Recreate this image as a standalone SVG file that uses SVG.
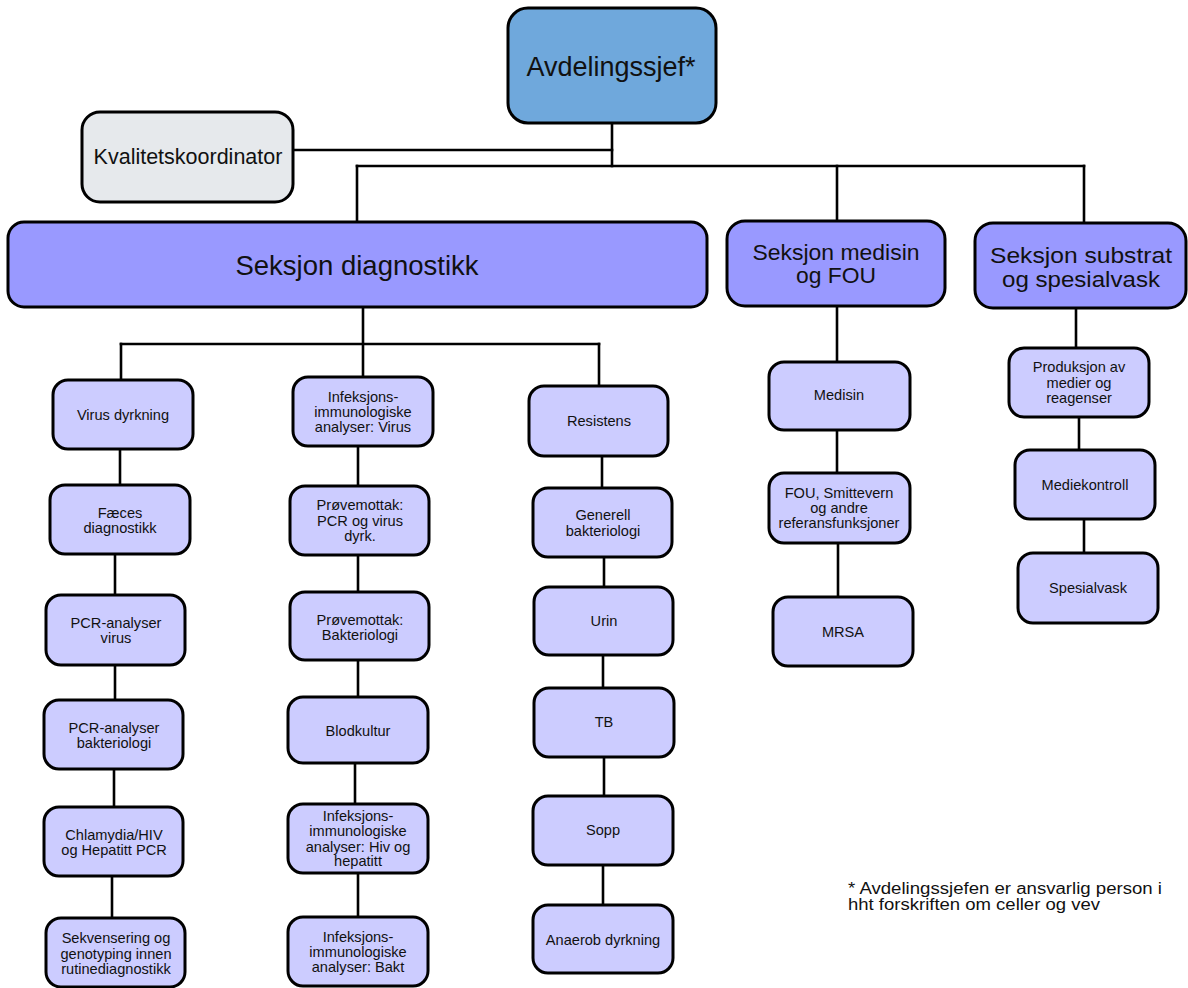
<svg xmlns="http://www.w3.org/2000/svg" width="1188" height="988" viewBox="0 0 1188 988">
<style>
  text { font-family: "Liberation Sans", Arial, sans-serif; fill: #111; text-anchor: middle; dominant-baseline: central; }
  .box { stroke: #000; stroke-width: 3; }
  .top { fill: #6fa8dc; }
  .kv { fill: #e6e9ec; }
  .sec { fill: #9999ff; }
  .unit { fill: #ccccff; }
  .s { font-size: 14.6px; }
  .conn line { stroke: #000; stroke-width: 2.6; stroke-linecap: square; }
  .note { text-anchor: start; font-size: 16px; }
</style>
<rect width="1188" height="988" fill="#fff"/>
<g class="conn">
  <line x1="612" y1="123" x2="612" y2="166"/>
  <line x1="293" y1="150" x2="612" y2="150"/>
  <line x1="357" y1="166" x2="1084" y2="166"/>
  <line x1="357" y1="166" x2="357" y2="222"/>
  <line x1="837" y1="166" x2="837" y2="221"/>
  <line x1="1084" y1="166" x2="1084" y2="223"/>
  <line x1="363" y1="307" x2="363" y2="377"/>
  <line x1="121" y1="344" x2="599" y2="344"/>
  <line x1="121" y1="344" x2="121" y2="380"/>
  <line x1="599" y1="344" x2="599" y2="386"/>
  <line x1="120" y1="449" x2="120" y2="485"/>
  <line x1="115" y1="554" x2="115" y2="595"/>
  <line x1="115" y1="665" x2="115" y2="700"/>
  <line x1="114" y1="769" x2="114" y2="807"/>
  <line x1="112" y1="876" x2="112" y2="918"/>
  <line x1="358" y1="446" x2="358" y2="486"/>
  <line x1="358" y1="555" x2="358" y2="592"/>
  <line x1="358" y1="660" x2="358" y2="697"/>
  <line x1="355" y1="763" x2="355" y2="804"/>
  <line x1="358" y1="873" x2="358" y2="917"/>
  <line x1="602" y1="456" x2="602" y2="488"/>
  <line x1="604" y1="557" x2="604" y2="587"/>
  <line x1="603" y1="655" x2="603" y2="688"/>
  <line x1="604" y1="757" x2="604" y2="796"/>
  <line x1="603" y1="865" x2="603" y2="905"/>
  <line x1="837" y1="306" x2="837" y2="362"/>
  <line x1="837" y1="430" x2="837" y2="473"/>
  <line x1="838" y1="543" x2="838" y2="597"/>
  <line x1="1076" y1="308" x2="1076" y2="348"/>
  <line x1="1079" y1="417" x2="1079" y2="450"/>
  <line x1="1084" y1="519" x2="1084" y2="553"/>
</g>
<g id="avdelingssjef">
  <rect class="box top" x="508" y="8" width="208" height="115" rx="20"/>
  <text x="611" y="67" font-size="27">Avdelingssjef*</text>
</g>
<g id="kvalitetskoordinator">
  <rect class="box kv" x="82" y="112" width="211" height="90" rx="18"/>
  <text x="188" y="157" font-size="21.5">Kvalitetskoordinator</text>
</g>
<g id="seksjon-diagnostikk">
  <rect class="box sec" x="8" y="222" width="699" height="85" rx="16"/>
  <text x="357" y="265" font-size="27.5">Seksjon diagnostikk</text>
</g>
<g id="seksjon-medisin">
  <rect class="box sec" x="727" y="221" width="218" height="85" rx="18"/>
  <text x="836" y="253" font-size="21.5" textLength="167" lengthAdjust="spacingAndGlyphs">Seksjon medisin</text>
  <text x="836" y="276" font-size="21.5" textLength="80" lengthAdjust="spacingAndGlyphs">og FOU</text>
</g>
<g id="seksjon-substrat">
  <rect class="box sec" x="975" y="223" width="211" height="85" rx="18"/>
  <text x="1081" y="255" font-size="22.5" textLength="182" lengthAdjust="spacingAndGlyphs">Seksjon substrat</text>
  <text x="1081" y="279" font-size="22.5" textLength="158" lengthAdjust="spacingAndGlyphs">og spesialvask</text>
</g>
<!-- Column 1 -->
<g id="virus-dyrkning">
  <rect class="box unit" x="53" y="380" width="140" height="69" rx="15"/>
  <text class="s" x="123" y="415">Virus dyrkning</text>
</g>
<g id="faeces">
  <rect class="box unit" x="50" y="485" width="140" height="69" rx="15"/>
  <text class="s"><tspan x="120" y="513">Fæces</tspan><tspan x="120" y="528">diagnostikk</tspan></text>
</g>
<g id="pcr-virus">
  <rect class="box unit" x="46" y="595" width="139" height="70" rx="15"/>
  <text class="s"><tspan x="116" y="623">PCR-analyser</tspan><tspan x="116" y="638">virus</tspan></text>
</g>
<g id="pcr-bakt">
  <rect class="box unit" x="44" y="700" width="139" height="69" rx="15"/>
  <text class="s"><tspan x="114" y="728">PCR-analyser</tspan><tspan x="114" y="743">bakteriologi</tspan></text>
</g>
<g id="chlamydia">
  <rect class="box unit" x="44" y="807" width="139" height="69" rx="15"/>
  <text class="s"><tspan x="114" y="835">Chlamydia/HIV</tspan><tspan x="114" y="850">og Hepatitt PCR</tspan></text>
</g>
<g id="sekvensering">
  <rect class="box unit" x="46" y="918" width="139" height="69" rx="15"/>
  <text class="s"><tspan x="116" y="938">Sekvensering og</tspan><tspan x="116" y="954">genotyping innen</tspan><tspan x="116" y="969">rutinediagnostikk</tspan></text>
</g>
<!-- Column 2 -->
<g id="infeksjon-virus">
  <rect class="box unit" x="293" y="377" width="140" height="69" rx="15"/>
  <text class="s"><tspan x="363" y="397">Infeksjons-</tspan><tspan x="363" y="412">immunologiske</tspan><tspan x="363" y="427">analyser: Virus</tspan></text>
</g>
<g id="provemottak-pcr">
  <rect class="box unit" x="290" y="486" width="139" height="69" rx="15"/>
  <text class="s"><tspan x="360" y="505">Prøvemottak:</tspan><tspan x="360" y="521">PCR og virus</tspan><tspan x="360" y="536">dyrk.</tspan></text>
</g>
<g id="provemottak-bakt">
  <rect class="box unit" x="290" y="592" width="139" height="68" rx="15"/>
  <text class="s"><tspan x="360" y="620">Prøvemottak:</tspan><tspan x="360" y="635">Bakteriologi</tspan></text>
</g>
<g id="blodkultur">
  <rect class="box unit" x="288" y="697" width="140" height="66" rx="15"/>
  <text class="s" x="358" y="731">Blodkultur</text>
</g>
<g id="infeksjon-hiv">
  <rect class="box unit" x="288" y="804" width="140" height="69" rx="15"/>
  <text class="s"><tspan x="358" y="816">Infeksjons-</tspan><tspan x="358" y="831">immunologiske</tspan><tspan x="358" y="847">analyser: Hiv og</tspan><tspan x="358" y="861">hepatitt</tspan></text>
</g>
<g id="infeksjon-bakt">
  <rect class="box unit" x="288" y="917" width="140" height="69" rx="15"/>
  <text class="s"><tspan x="358" y="937">Infeksjons-</tspan><tspan x="358" y="952">immunologiske</tspan><tspan x="358" y="967">analyser: Bakt</tspan></text>
</g>
<!-- Column 3 -->
<g id="resistens">
  <rect class="box unit" x="529" y="386" width="139" height="70" rx="15"/>
  <text class="s" x="599" y="421">Resistens</text>
</g>
<g id="generell">
  <rect class="box unit" x="533" y="488" width="139" height="69" rx="15"/>
  <text class="s"><tspan x="603" y="515">Generell</tspan><tspan x="603" y="531">bakteriologi</tspan></text>
</g>
<g id="urin">
  <rect class="box unit" x="534" y="587" width="139" height="68" rx="15"/>
  <text class="s" x="604" y="621">Urin</text>
</g>
<g id="tb">
  <rect class="box unit" x="534" y="688" width="140" height="69" rx="15"/>
  <text class="s" x="604" y="722">TB</text>
</g>
<g id="sopp">
  <rect class="box unit" x="533" y="796" width="140" height="69" rx="15"/>
  <text class="s" x="603" y="830">Sopp</text>
</g>
<g id="anaerob">
  <rect class="box unit" x="533" y="905" width="140" height="68" rx="15"/>
  <text class="s" x="603" y="940">Anaerob dyrkning</text>
</g>
<!-- Medisin column -->
<g id="medisin">
  <rect class="box unit" x="769" y="362" width="141" height="68" rx="15"/>
  <text class="s" x="839" y="395">Medisin</text>
</g>
<g id="fou">
  <rect class="box unit" x="769" y="473" width="141" height="70" rx="15"/>
  <text class="s"><tspan x="839" y="493">FOU, Smittevern</tspan><tspan x="839" y="508">og andre</tspan><tspan x="839" y="523">referansfunksjoner</tspan></text>
</g>
<g id="mrsa">
  <rect class="box unit" x="773" y="597" width="140" height="69" rx="15"/>
  <text class="s" x="843" y="632">MRSA</text>
</g>
<!-- Substrat column -->
<g id="produksjon">
  <rect class="box unit" x="1009" y="348" width="140" height="69" rx="15"/>
  <text class="s"><tspan x="1079" y="367">Produksjon av</tspan><tspan x="1079" y="383">medier og</tspan><tspan x="1079" y="398">reagenser</tspan></text>
</g>
<g id="mediekontroll">
  <rect class="box unit" x="1015" y="450" width="140" height="69" rx="15"/>
  <text class="s" x="1085" y="485">Mediekontroll</text>
</g>
<g id="spesialvask">
  <rect class="box unit" x="1018" y="553" width="140" height="70" rx="15"/>
  <text class="s" x="1088" y="588">Spesialvask</text>
</g>
<g id="footnote">
  <text class="note" x="848" y="888" textLength="314" lengthAdjust="spacingAndGlyphs">* Avdelingssjefen er ansvarlig person i</text>
  <text class="note" x="848" y="904" textLength="252" lengthAdjust="spacingAndGlyphs">hht forskriften om celler og vev</text>
</g>
</svg>
